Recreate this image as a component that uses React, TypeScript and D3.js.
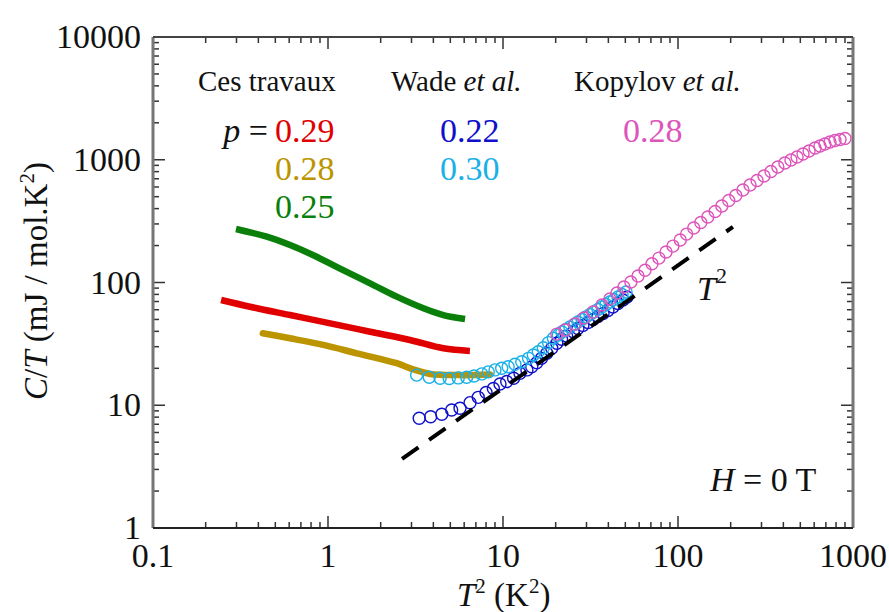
import React from "react";
import * as d3 from "d3";

// ---- Data (T^2 in K^2, C/T in mJ/mol.K^2) ----
const greenX = [0.298, 0.447, 0.607, 0.861, 1.22, 1.74, 2.47, 3.51, 4.56, 6.07];
const greenY = [273, 236, 202, 162, 126, 98.5, 76.7, 61.7, 54.3, 50.4];

const redX = [0.245, 0.358, 0.607, 1.03, 1.74, 2.94, 4.56, 6.47];
const redY = [72, 63.5, 54.3, 46.5, 39.7, 34.0, 29.1, 27.7];

const goldX = [0.424, 0.607, 0.94, 1.46, 2.47, 3.07, 3.83, 5.68, 8.43];
const goldY = [38.6, 35.1, 31.0, 26.5, 22.0, 19.6, 18.0, 17.6, 17.8];

const cyanX = [3.21, 3.79, 4.37, 4.93, 5.55, 6.2, 6.83, 7.56, 8.24, 9.0, 9.83, 10.7, 11.7, 12.8, 14.0, 14.9, 15.9, 17.0, 18.2, 19.4, 20.7, 21.7, 22.9, 24.1, 25.5, 26.8, 28.3, 29.8, 31.4, 33.1, 34.9, 36.8, 38.8, 40.8, 43.1, 45.4, 47.9, 50.5];
const cyanY = [17.6, 16.9, 16.6, 16.5, 16.7, 16.9, 17.3, 18.0, 18.7, 19.4, 20.0, 20.6, 21.6, 22.6, 24.1, 25.7, 27.3, 29.4, 32.4, 35.1, 37.4, 39.5, 41.4, 43.4, 45.5, 47.6, 50.0, 52.3, 54.9, 57.5, 60.3, 63.1, 66.2, 69.4, 72.7, 76.2, 79.8, 83.7];

const blueX = [3.32, 3.86, 4.47, 5.09, 5.68, 6.48, 7.22, 8.0, 8.81, 9.61, 10.5, 11.5, 12.5, 13.7, 14.6, 15.6, 16.6, 17.8, 19.0, 20.3, 21.6, 23.1, 25.2, 26.8, 28.6, 30.6, 32.7, 34.9, 37.3, 39.8, 42.5, 45.4, 48.5, 51.1];
const blueY = [7.83, 8.07, 8.44, 9.15, 9.44, 10.5, 11.6, 12.7, 13.7, 14.9, 15.6, 16.6, 18.2, 19.4, 20.6, 22.2, 24.1, 26.5, 29.1, 32.0, 34.5, 36.6, 39.7, 42.2, 44.7, 47.2, 50.0, 52.9, 55.9, 59.1, 63.1, 67.4, 72.0, 76.2];

const pinkX = [20.3, 22.6, 25.8, 29.0, 32.7, 36.8, 40.8, 44.8, 49.1, 53.8, 59.1, 64.8, 71.0, 77.8, 85.4, 93.6, 103, 112, 123, 135, 148, 163, 178, 195, 214, 235, 258, 283, 310, 340, 372, 408, 442, 479, 518, 561, 607, 648, 691, 739, 789, 843, 900];
const pinkY = [38.0, 41.0, 45.9, 51.4, 57.5, 65.6, 73.4, 82.1, 91.9, 101, 113, 126, 142, 158, 177, 198, 222, 248, 278, 308, 342, 379, 420, 466, 512, 567, 623, 677, 738, 802, 873, 942, 995, 1054, 1115, 1180, 1247, 1295, 1345, 1397, 1436, 1463, 1490];

const t2X = [2.65, 206];
const t2Y = [3.66, 284];

const xTicks = [0.1, 1, 10, 100, 1000];
const xTickLabels = ["0.1", "1", "10", "100", "1000"];
const yTicks = [1, 10, 100, 1000, 10000];
const yTickLabels = ["1", "10", "100", "1000", "10000"];

const W = 889, H = 612;
const L = 153, R = 853, T = 37, B = 528;
const FONT = "'Liberation Serif', 'DejaVu Serif', serif";

const C_RED = "#e00000";
const C_GOLD = "#bb9400";
const C_GREEN = "#0a800a";
const C_BLUE = "#1010cc";
const C_CYAN = "#1ab0e8";
const C_PINK = "#dd55bb";

export default function App() {
  const x = d3.scaleLog().domain([0.1, 1000]).range([L, R]);
  const y = d3.scaleLog().domain([1, 10000]).range([B, T]);
  const line = d3
    .line<[number, number]>()
    .x((d) => x(d[0]))
    .y((d) => y(d[1]))
    .curve(d3.curveCatmullRom);
  const zip = (a: number[], b: number[]) => a.map((v, i) => [v, b[i]] as [number, number]);

  // minor ticks
  const xMinor: number[] = [];
  for (let e = -1; e < 3; e++) for (let k = 2; k <= 9; k++) xMinor.push(k * Math.pow(10, e));
  const yMinor: number[] = [];
  for (let e = 0; e < 4; e++) for (let k = 2; k <= 9; k++) yMinor.push(k * Math.pow(10, e));

  const circles = (xs: number[], ys: number[], col: string) =>
    xs.map((v, i) => (
      <circle key={i} cx={x(v)} cy={y(ys[i])} r={6} fill="none" stroke={col} strokeWidth={1.4} />
    ));

  return (
    <svg width={W} height={H} style={{ position: "absolute", left: 0, top: 0, background: "#fff" }} fontFamily={FONT}>
      <rect x={0} y={0} width={W} height={H} fill="#fff" />
      {/* ticks */}
      <g stroke="#333" strokeWidth={1.5}>
        {xMinor.map((v, i) => (
          <g key={"xm" + i}>
            <line x1={x(v)} x2={x(v)} y1={B} y2={B - 6} />
            <line x1={x(v)} x2={x(v)} y1={T} y2={T + 6} />
          </g>
        ))}
        {xTicks.map((v, i) => (
          <g key={"xM" + i}>
            <line x1={x(v)} x2={x(v)} y1={B} y2={B - 12} />
            <line x1={x(v)} x2={x(v)} y1={T} y2={T + 12} />
          </g>
        ))}
        {yMinor.map((v, i) => (
          <g key={"ym" + i}>
            <line x1={L} x2={L + 6} y1={y(v)} y2={y(v)} />
            <line x1={R} x2={R - 6} y1={y(v)} y2={y(v)} />
          </g>
        ))}
        {yTicks.map((v, i) => (
          <g key={"yM" + i}>
            <line x1={L} x2={L + 12} y1={y(v)} y2={y(v)} />
            <line x1={R} x2={R - 12} y1={y(v)} y2={y(v)} />
          </g>
        ))}
      </g>
      {/* frame */}
      <line x1={L} x2={L} y1={T} y2={B} stroke="#777" strokeWidth={3} />
      <line x1={R} x2={R} y1={T} y2={B} stroke="#777" strokeWidth={3} />
      <line x1={L} x2={R} y1={B} y2={B} stroke="#222" strokeWidth={2} />
      <line x1={L} x2={R} y1={T} y2={T} stroke="#444" strokeWidth={2} />

      {/* tick labels */}
      <g fontSize={34} fill="#111">
        {xTicks.map((v, i) => (
          <text key={"xl" + i} x={x(v)} y={567} textAnchor="middle">
            {xTickLabels[i]}
          </text>
        ))}
        {yTicks.map((v, i) => (
          <text key={"yl" + i} x={141} y={y(v) + 11} textAnchor="end">
            {yTickLabels[i]}
          </text>
        ))}
      </g>

      {/* axis titles */}
      <text x={457} y={606} fontSize={33} fill="#111">
        <tspan fontStyle="italic">T</tspan>
        <tspan dy={-13} fontSize={21}>2</tspan>
        <tspan dy={13}> (K</tspan>
        <tspan dy={-13} fontSize={21}>2</tspan>
        <tspan dy={13}>)</tspan>
      </text>
      <text transform="translate(47,281) rotate(-90)" textAnchor="middle" fontSize={33} fill="#111">
        <tspan fontStyle="italic">C</tspan>
        <tspan>/</tspan>
        <tspan fontStyle="italic">T</tspan>
        <tspan> (mJ / mol.K</tspan>
        <tspan dy={-13} fontSize={21}>2</tspan>
        <tspan dy={13}>)</tspan>
      </text>

      {/* data lines */}
      <path d={line(zip(goldX, goldY)) || ""} fill="none" stroke={C_GOLD} strokeWidth={6.5} strokeLinecap="round" />
      <path d={line(zip(redX, redY)) || ""} fill="none" stroke={C_RED} strokeWidth={6.5} />
      <path d={line(zip(greenX, greenY)) || ""} fill="none" stroke={C_GREEN} strokeWidth={6.5} />

      {circles(blueX, blueY, C_BLUE)}
      {circles(cyanX, cyanY, C_CYAN)}
      {circles(pinkX, pinkY, C_PINK)}

      <path
        d={d3.line<[number, number]>().x((d) => x(d[0])).y((d) => y(d[1]))(zip(t2X, t2Y)) || ""}
        fill="none"
        stroke="#000"
        strokeWidth={4}
        strokeDasharray="20,13"
      />

      {/* annotations */}
      <g fill="#111" fontSize={29}>
        <text x={198} y={91}>Ces travaux</text>
        <text x={391} y={91}>
          Wade <tspan fontStyle="italic">et al.</tspan>
        </text>
        <text x={574} y={91}>
          Kopylov <tspan fontStyle="italic">et al.</tspan>
        </text>
      </g>
      <g fontSize={34}>
        <text x={268} y={142} textAnchor="end" fill="#111">
          <tspan fontStyle="italic">p</tspan> =
        </text>
        <text x={275} y={142} fill={C_RED}>0.29</text>
        <text x={275} y={180} fill={C_GOLD}>0.28</text>
        <text x={275} y={218} fill={C_GREEN}>0.25</text>
        <text x={440} y={142} fill={C_BLUE}>0.22</text>
        <text x={440} y={180} fill={C_CYAN}>0.30</text>
        <text x={623} y={142} fill={C_PINK}>0.28</text>
        <text x={710} y={491} fill="#111">
          <tspan fontStyle="italic">H</tspan> = 0 T
        </text>
        <text x={697} y={300} fill="#111">
          <tspan fontStyle="italic">T</tspan>
          <tspan dy={-17} fontSize={22}>2</tspan>
        </text>
      </g>
    </svg>
  );
}
